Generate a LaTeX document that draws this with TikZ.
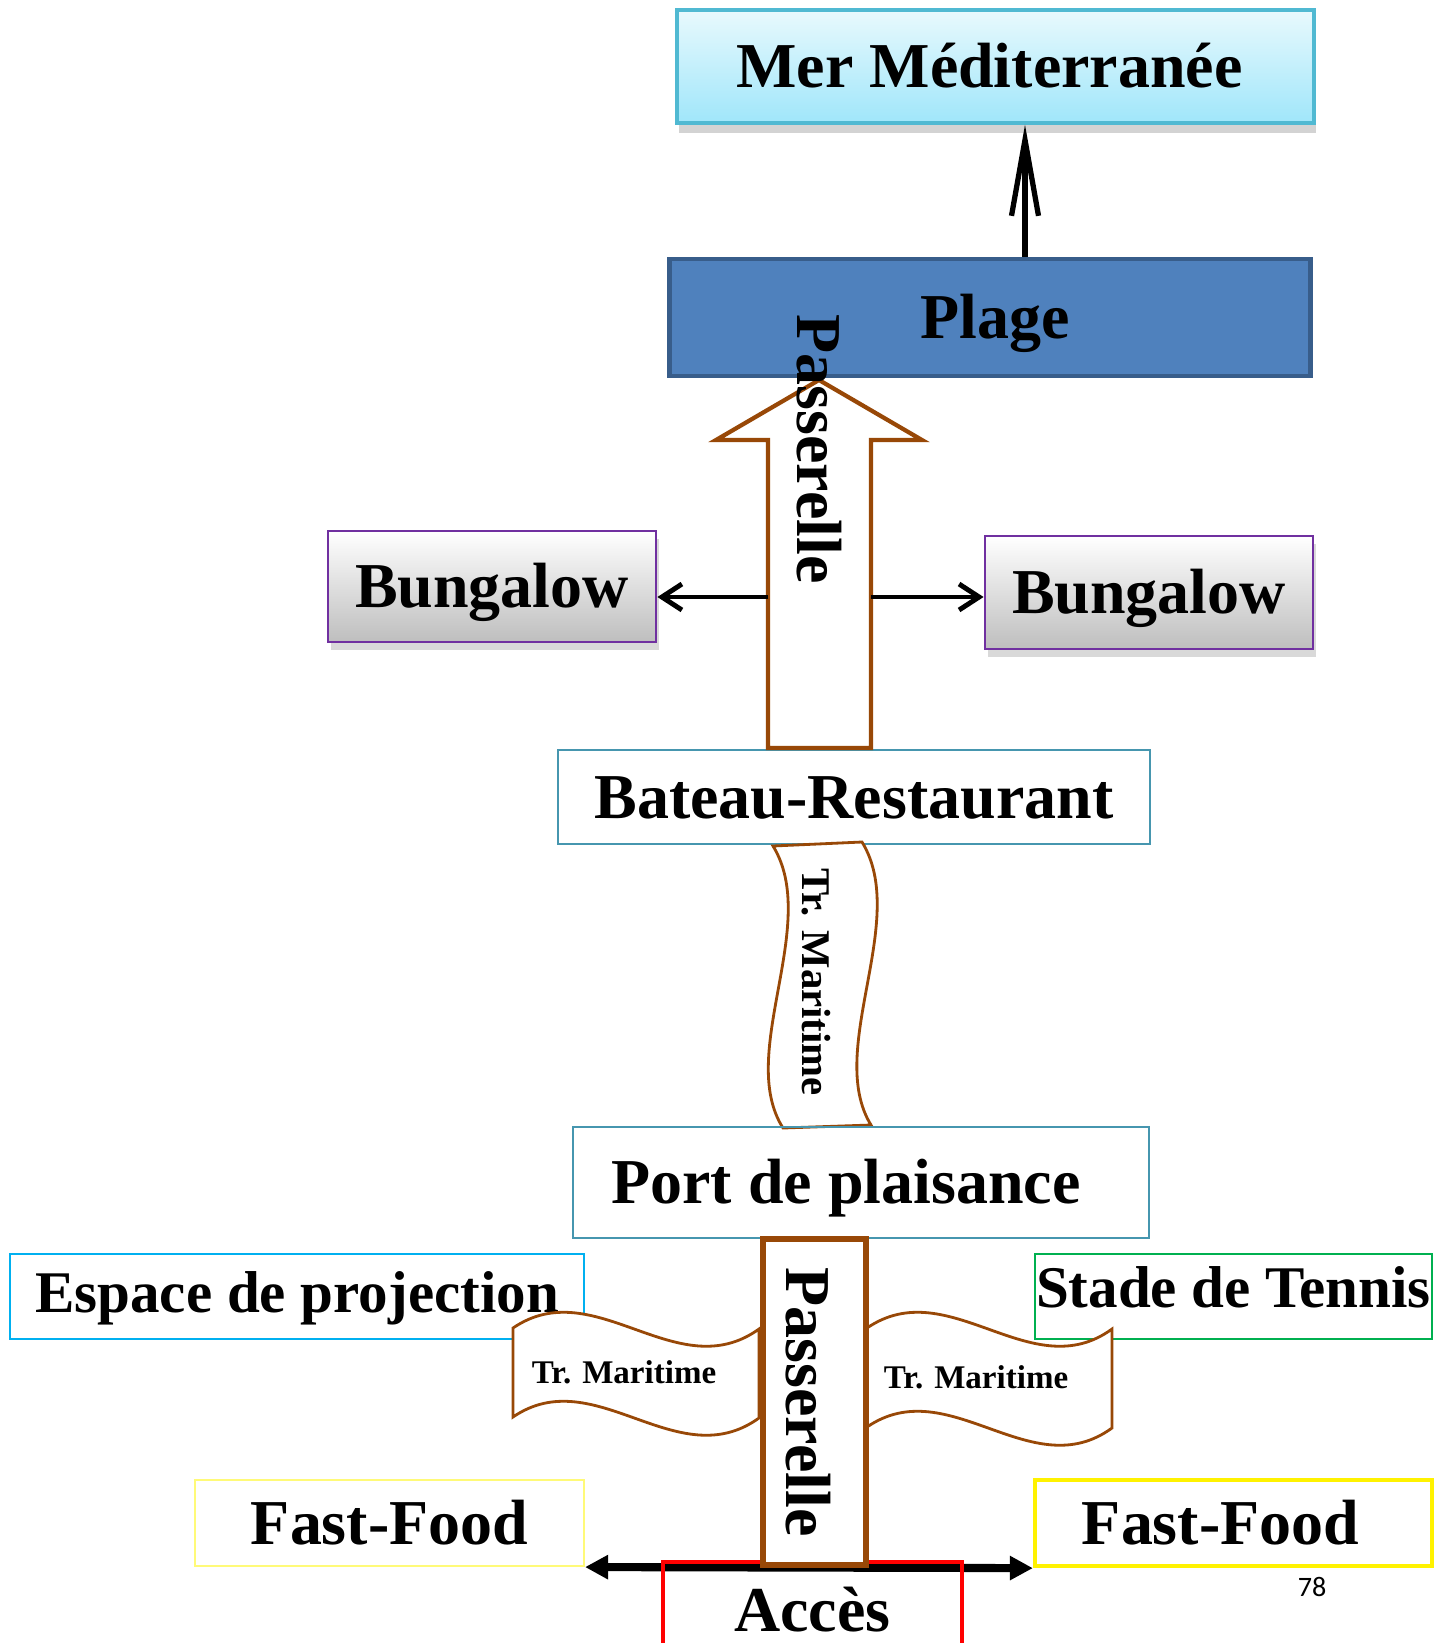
\documentclass[tikz,border=0pt]{standalone}
\usepackage{fontspec}
\setmainfont{Liberation Serif}
\newfontfamily\numfont{Carlito}
\usepackage{xcolor}
\usepackage{tikz}
\usetikzlibrary{arrows.meta,shadows}

\definecolor{seaedge}{RGB}{80,185,210}
\definecolor{seatop}{RGB}{232,249,253}
\definecolor{seabot}{RGB}{160,230,250}
\definecolor{beachfill}{RGB}{79,129,189}
\definecolor{beachedge}{RGB}{56,93,138}
\definecolor{bungedge}{RGB}{112,48,160}
\definecolor{bunggray}{RGB}{190,190,190}
\definecolor{woodbrown}{RGB}{152,72,7}
\definecolor{boatedge}{RGB}{70,150,175}
\definecolor{cinemaedge}{RGB}{0,176,240}
\definecolor{tennisedge}{RGB}{0,176,80}
\definecolor{palefood}{RGB}{255,250,120}

\begin{document}
\begin{tikzpicture}[x=0.1mm,y=-0.1mm,
        box/.style={draw,inner sep=0pt,font=\bfseries\fontsize{18.2}{20}\selectfont,text height=12pt,text depth=0pt},
        smallbox/.style={box,font=\bfseries\fontsize{16.8}{18}\selectfont,text height=11pt},
        tape/.style={draw=woodbrown,line width=0.8pt,fill=white},
        tapetext/.style={inner sep=0pt,font=\bfseries\fontsize{9.4}{11}\selectfont},
        walk/.style={draw=woodbrown,fill=white},
        barb/.style={line width=1.4pt,-{Straight Barb[length=2mm,width=2.6mm]}}]
        \useasboundingbox (0,0) rectangle (1450,1643);
        % sea and beach
        \node[box,draw=seaedge,line width=1pt,top color=seatop,bottom color=seabot,drop shadow={opacity=0.35,shadow xshift=0.2mm,shadow yshift=-1mm},minimum width=63.7mm,minimum height=11.3mm] (mer) at (995.5,66.5) {\kern-1.2mm Mer Méditerranée};
        \node[box,fill=beachfill,draw=beachedge,line width=1.3pt,minimum width=64.1mm,minimum height=11.7mm] (plage) at (990,317.5) {Plage\kern-1mm};
        \draw[line width=1.5pt,-{Straight Barb[length=7.6mm,width=2.7mm]}] ([xshift=3.5mm]plage.north) -- ([xshift=3.5mm]plage.north |- mer.south);
        % bungalows
        \node[box,draw=bungedge,line width=0.8pt,top color=white,bottom color=bunggray,drop shadow={opacity=0.3,shadow xshift=0.3mm,shadow yshift=-0.8mm},minimum width=32.8mm,minimum height=11.1mm] (bungL) at (492,586.5) {Bungalow};
        \node[box,draw=bungedge,line width=0.8pt,top color=white,bottom color=bunggray,drop shadow={opacity=0.3,shadow xshift=0.3mm,shadow yshift=-0.8mm},minimum width=32.8mm,minimum height=11.3mm] (bungR) at (1149,592.5) {Bungalow};
        \node[box,draw=boatedge,line width=0.7pt,minimum width=59.2mm,minimum height=9.4mm] (bateau) at (854,797) {Bateau-Restaurant};
        % passerelle arrow
        \draw[walk,line width=1.2pt] (768,748) -- (768,440) -- (716,440) -- (819,380) -- (922,440) -- (871,440) -- (871,748) -- cycle;
        \coordinate (shaftL) at (768,597);
        \coordinate (shaftR) at (871,597);
        \draw[barb] (shaftL) -- (shaftL -| bungL.east);
        \draw[barb] (shaftR) -- (shaftR -| bungR.west);
        \node[box,draw=none,rotate=-90] (walktop) at (819,449) {Passerelle};
        % boat transfer
        \draw[tape] (773,846) -- (862,842) .. controls (910,920) and (825,1050) .. (871,1125) -- (783,1128) .. controls (736,1054) and (821,924) .. (773,846) -- cycle;
        \node[tapetext,rotate=-90,font=\bfseries\fontsize{11.6}{13}\selectfont] (boattr) at (816,982) {Tr. Maritime};
        \node[box,draw=boatedge,line width=0.7pt,minimum width=57.6mm,minimum height=11.1mm] (port) at (861,1182.5) {\kern-3mm Port de plaisance};
        % lower part
        \node[smallbox,draw=cinemaedge,line width=0.8pt,minimum width=57.4mm,minimum height=8.5mm,text depth=2pt] (espace) at (297,1296.5) {Espace de projection};
        \node[smallbox,draw=tennisedge,line width=0.8pt,minimum width=39.7mm,minimum height=8.5mm,text depth=5pt] (stade) at (1233.5,1296.5) {Stade de Tennis};
        \node[box,draw=palefood,line width=0.6pt,minimum width=38.9mm,minimum height=8.6mm] (ffL) at (389.5,1523) {Fast-Food};
        \node[box,draw=yellow,line width=1.2pt,minimum width=39.7mm,minimum height=8.6mm] (ffR) at (1233.5,1523) {\kern-2.6mm Fast-Food};
        \draw[tape] (513,1328) .. controls (595,1272) and (677,1388) .. (759,1329) -- (759,1418) .. controls (677,1477) and (595,1361) .. (513,1417) -- cycle;
        \node[tapetext] (tapeL) at (624,1372) {Tr. Maritime};
        \draw[tape] (867,1328) .. controls (949,1272) and (1031,1388) .. (1112,1329) -- (1112,1428) .. controls (1031,1487) and (949,1371) .. (867,1427) -- cycle;
        \node[tapetext] (tapeR) at (976,1377) {Tr. Maritime};
        \draw[line width=2.3pt,{Triangle[length=2.3mm,width=2.3mm]}-{Triangle[length=2.3mm,width=2.3mm]}] (ffL.south east) -- (ffR.south west);
        \node[box,draw=red,line width=1.3pt,minimum width=29.9mm,minimum height=9.6mm] (acces) at (812.5,1610) {Accès};
        \node[box,walk,line width=1.7pt,rotate=-90,minimum width=32.6mm,minimum height=10.3mm,text height=16pt] (walkbot) at (814.5,1402) {Passerelle};
        \node[font=\numfont\fontsize{8}{9}\selectfont] (pagenum) at (1312,1587) {78};
      \end{tikzpicture}
\end{document}
